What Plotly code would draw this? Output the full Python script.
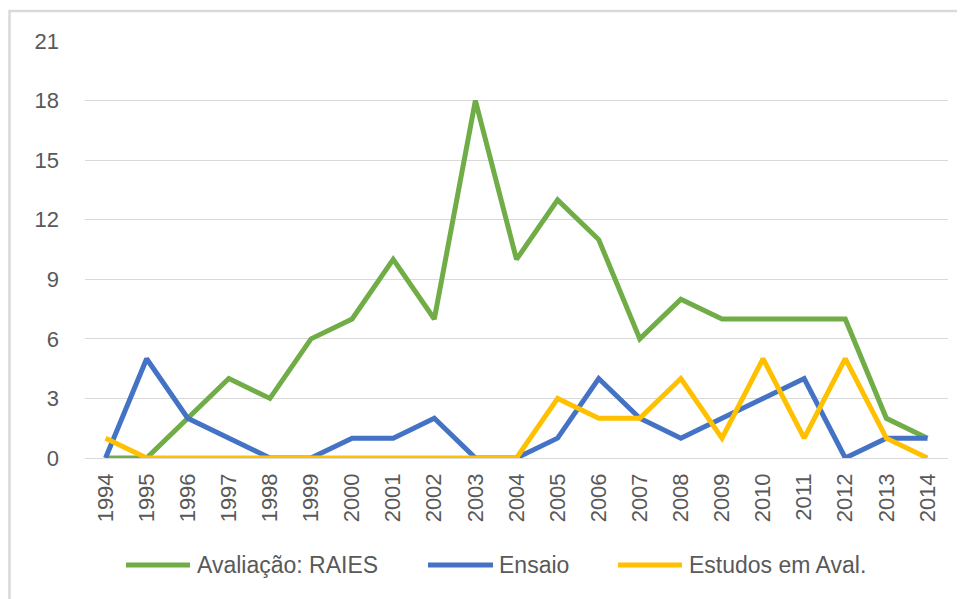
import plotly.graph_objects as go

years = [str(y) for y in range(1994, 2015)]
avaliacao = [0, 0, 2, 4, 3, 6, 7, 10, 7, 18, 10, 13, 11, 6, 8, 7, 7, 7, 7, 2, 1]
ensaio = [0, 5, 2, 1, 0, 0, 1, 1, 2, 0, 0, 1, 4, 2, 1, 2, 3, 4, 0, 1, 1]
estudos = [1, 0, 0, 0, 0, 0, 0, 0, 0, 0, 0, 3, 2, 2, 4, 1, 5, 1, 5, 1, 0]
y_ticks = [0, 3, 6, 9, 12, 15, 18, 21]
series_names = ["Avaliação: RAIES", "Ensaio", "Estudos em Aval."]
series_colors = ["#70AD47", "#4472C4", "#FFC000"]

font_family = "Liberation Sans"
text_color = "#595959"

fig = go.Figure()
for name, vals, col in zip(series_names, [avaliacao, ensaio, estudos], series_colors):
    fig.add_trace(go.Scatter(x=years, y=vals, mode="lines", name=name,
                             line=dict(color=col, width=5), showlegend=False))

# page offset (body margin) of 8px
OFF = 8
W, H = 965, 599
# desired plot area in window pixels
PL, PR, PT, PB = 85, 948, 41, 458
L = PL - OFF
T = PT - OFF
R = W - (PR - OFF)
B = H - (PB - OFF)
pw, ph = PR - PL, PB - PT

def px_x(px):
    return (px - PL) / pw

def px_y(py):
    return (PB - py) / ph

shapes = [dict(type="rect", xref="paper", yref="paper",
               x0=px_x(9.5), x1=px_x(1000), y0=px_y(640), y1=px_y(11),
               line=dict(color="#d9d9d9", width=2.5), fillcolor="rgba(0,0,0,0)", layer="below")]
annotations = []

leg_y = 565
leg_lines = [(126, 190), (428, 493), (618, 682)]
leg_text_x = [195, 497, 687]
for (x0, x1), tx, name, col in zip(leg_lines, leg_text_x, series_names, series_colors):
    shapes.append(dict(type="line", xref="paper", yref="paper",
                       x0=px_x(x0), x1=px_x(x1), y0=px_y(leg_y), y1=px_y(leg_y),
                       line=dict(color=col, width=5)))
    annotations.append(dict(text=name, xref="paper", yref="paper", x=px_x(tx), y=px_y(leg_y),
                            xanchor="left", yanchor="middle", showarrow=False,
                            font=dict(family=font_family, size=23, color=text_color)))

fig.update_layout(
    width=W, height=H,
    margin=dict(l=L, r=R, t=T, b=B),
    paper_bgcolor="white", plot_bgcolor="white",
    font=dict(family=font_family, size=22, color=text_color),
    showlegend=False,
    xaxis=dict(type="category", range=[-0.5, 20.5], tickangle=-90, showgrid=False,
               showline=False, ticks="", ticklabelstandoff=10,
               tickfont=dict(size=22, color=text_color), zeroline=False),
    yaxis=dict(range=[0, 21], tickvals=y_ticks, showgrid=True, gridcolor="#d9d9d9", gridwidth=1,
               zeroline=True, zerolinecolor="#d9d9d9", zerolinewidth=1, showline=False, ticks="",
               ticklabelstandoff=25, tickfont=dict(size=22, color=text_color)),
    shapes=shapes,
    annotations=annotations,
)

fig.write_html("out.html")
